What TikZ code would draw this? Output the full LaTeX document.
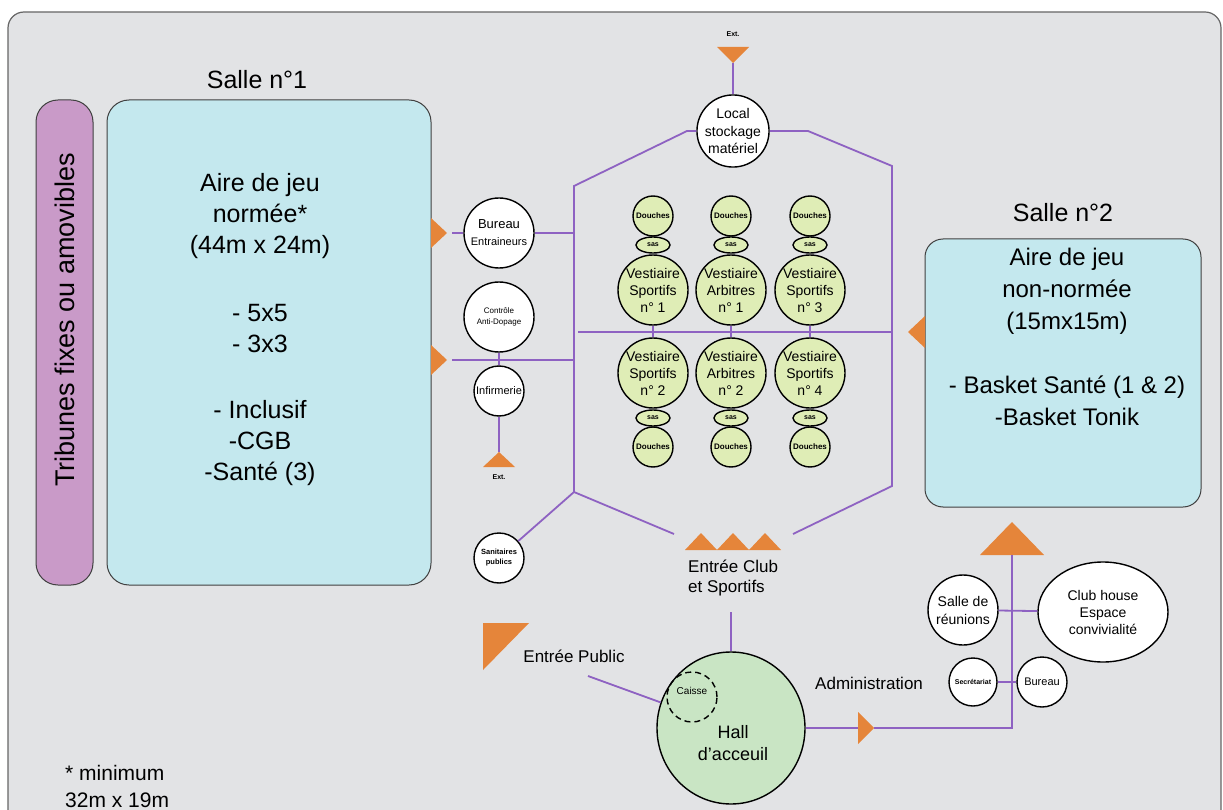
\documentclass[tikz,border=0pt]{standalone}
\usepackage{fontspec}
\setmainfont{Liberation Sans}
\usetikzlibrary{shapes.geometric}
\definecolor{fond}{HTML}{E2E3E5}
\definecolor{terrain}{HTML}{C4E8EE}
\definecolor{tribune}{HTML}{C99AC8}
\definecolor{vert}{HTML}{DFEDB6}
\definecolor{accueil}{HTML}{C9E5C4}
\definecolor{orangeF}{HTML}{E5853A}
\definecolor{couloir}{HTML}{8E62C2}
\newcommand{\fsz}[2]{\fontsize{#1}{#2}\selectfont}

\begin{document}
\begin{tikzpicture}[x=1pt, y=-1pt, >=latex]
		\useasboundingbox (0,0) rectangle (1223,810);
		\fill[white] (0,0) rectangle (1223,810);
		\draw[fill=fond, draw=black!60, line width=1.2pt, rounded corners=16pt] (8,12) rectangle (1221,860);

		\tikzstyle{salle} = [draw=black!75, line width=1pt, rounded corners=22pt, fill=terrain, inner sep=0pt]
		\tikzstyle{piece} = [circle, draw, line width=1.4pt, fill=white, inner sep=0pt, align=center]
		\tikzstyle{vest} = [piece, fill=vert]
		\tikzstyle{sas} = [ellipse, draw, line width=1.4pt, fill=vert, inner sep=0pt, minimum width=34pt, minimum height=16pt, font=\bfseries\fsz{7}{8}]
		\tikzstyle{txt} = [inner sep=0pt, align=center]
		\tikzstyle{lien} = [draw=couloir, line width=1.8pt]
		\tikzstyle{entree} = [fill=orangeF]

		% salles
		\node[salle, fill=tribune, minimum width=57pt, minimum height=485pt] (trib) at (64.5,342.5) {};
		\node[txt, rotate=90, font=\fsz{27}{30}] (tribt) at (65,320) {Tribunes fixes ou amovibles};
		\node[salle, minimum width=324pt, minimum height=485pt] (s1) at (269,342.5) {};
		\node[txt, font=\fsz{25}{30}] (s1t) at (257,80) {Salle n°1};
		\node[txt, font=\fsz{25}{31}] (a1) at (260,330) {Aire de jeu\\normée*\\(44m x 24m)\\[37pt]- 5x5\\- 3x3\\[35pt]- Inclusif\\-CGB\\-Santé (3)};
		\node[salle, minimum width=276pt, minimum height=268pt, rounded corners=18pt] (s2) at (1063,373) {};
		\node[txt, font=\fsz{25}{30}] (s2t) at (1063,213) {Salle n°2};
		\node[txt, font=\fsz{24}{32}] (a2) at (1067,337) {Aire de jeu\\non-normée\\(15mx15m)\\[32pt]- Basket Santé (1 \& 2)\\-Basket Tonik};

		% locaux
		\node[piece, minimum size=70pt, font=\fsz{14}{17.5}] (loc) at (733,131) {Local\\stockage\\matériel};
		\node[piece, minimum size=70pt, font=\fsz{11}{17}] (bur) at (499,233) {{\fsz{13}{17}Bureau}\\Entraineurs};
		\node[piece, minimum size=70pt, font=\fsz{8}{11}] (cad) at (499,317) {Contrôle\\Anti-Dopage};
		\node[piece, minimum size=50pt, font=\fsz{11}{13}] (inf) at (499,391) {Infirmerie};
		\node[piece, minimum size=50pt, font=\bfseries\fsz{7.5}{10}] (san) at (499,558) {Sanitaires\\publics};
		\node[piece, minimum size=70pt, font=\fsz{14}{18}] (reu) at (963,610) {Salle de\\réunions};
		\node[piece, ellipse, minimum width=130pt, minimum height=100pt, font=\fsz{14}{17}] (club) at (1103,612) {Club house\\Espace\\convivialité};
		\node[piece, minimum size=48pt, font=\bfseries\fsz{7}{9}] (sec) at (973,682) {Secrétariat};
		\node[piece, minimum size=50pt, font=\fsz{11}{13}] (bu2) at (1042,682) {Bureau};
		\node[piece, ellipse, fill=accueil, minimum width=148pt, minimum height=152pt] (hal) at (731,728) {};
		\node[txt, font=\fsz{18}{22}] (halt) at (733,743) {Hall\\d’acceuil};
		\node[circle, draw, dashed, dash pattern=on 6pt off 4pt, line width=1.4pt, minimum size=50pt, inner sep=0pt] (cai) at (692,697) {};
		\node[txt, font=\fsz{10}{12}] (cait) at (692,691) {Caisse};

		% vestiaires
		\coordinate (m1) at (578,332);
		\coordinate (m2) at (892,332);
		\draw[lien] (m1) -- (m2);
		\foreach \x/\ta/\na/\tb/\nb [count=\i] in {653/Sportifs/1/Sportifs/2, 731/Arbitres/1/Arbitres/2, 810/Sportifs/3/Sportifs/4} {
			\node[vest, minimum size=40pt, font=\bfseries\fsz{8}{9}] (dh\i) at (\x,216) {Douches};
			\node[sas] (sh\i) at (\x,245) {sas};
			\node[vest, minimum size=70pt, font=\fsz{14}{17}] (vh\i) at (\x,290) {Vestiaire\\\ta\\n° \na};
			\node[vest, minimum size=70pt, font=\fsz{14}{17}] (vb\i) at (\x,373) {Vestiaire\\\tb\\n° \nb};
			\node[sas] (sb\i) at (\x,418) {sas};
			\node[vest, minimum size=40pt, font=\bfseries\fsz{8}{9}] (db\i) at (\x,447) {Douches};
			\draw[lien] (vh\i) -- (vh\i |- m1);
			\draw[lien] (vb\i) -- (vb\i |- m1);
		}

		% entrees
		\coordinate (extH) at (733,63);
		\coordinate (tb) at (447,233);
		\coordinate (tc) at (447,360);
		\coordinate (t2) at (908,332);
		\coordinate (extB) at (499,452);
		\coordinate (tadm) at (874,728);
		\coordinate (tbig) at (1012,522);
		\fill[entree] (extH) -- ++(-16,-16) -- ++(32,0) -- cycle;
		\fill[entree] (tb) -- ++(-16,-15) -- ++(0,30) -- cycle;
		\fill[entree] (tc) -- ++(-16,-15) -- ++(0,30) -- cycle;
		\fill[entree] (t2) -- ++(17,-16) -- ++(0,32) -- cycle;
		\fill[entree] (extB) -- ++(-16,15) -- ++(32,0) -- cycle;
		\foreach \x in {701,733,765}
			\fill[entree] (\x,533) -- ++(-16,17) -- ++(32,0) -- cycle;
		\fill[entree] (483,623) -- (529,623) -- (483,670) -- cycle;
		\fill[entree] (tadm) -- ++(-16,-16) -- ++(0,32) -- cycle;
		\fill[entree] (tbig) -- ++(-32,33) -- ++(64,0) -- cycle;

		\node[txt, font=\bfseries\fsz{7}{8}] (extHt) at (733,34) {Ext.};
		\node[txt, font=\bfseries\fsz{7}{8}] (extBt) at (499,477) {Ext.};
		\node[txt, anchor=west, align=left, font=\fsz{17}{20}] (ecs) at (688,578) {Entrée Club\\et Sportifs};
		\node[txt, font=\fsz{17}{20}] (ep) at (574,656) {Entrée Public};
		\node[txt, anchor=west, font=\fsz{17}{20}] (adm) at (815,683) {Administration};
		\node[txt, anchor=west, align=left, font=\fsz{21}{27}] (mini) at (65,786) {* minimum\\32m x 19m};

		% couloirs
		\coordinate (c1) at (574,186);
		\coordinate (c2) at (687,131);
		\coordinate (c3) at (808,131);
		\coordinate (c4) at (892,166);
		\coordinate (c5) at (892,486);
		\coordinate (c6) at (793,534);
		\coordinate (c7) at (574,492);
		\coordinate (c8) at (674,534);
		\coordinate (ecb) at (731,612);
		\coordinate (epl) at (588,676);
		\coordinate (adc) at (1012,728);
		\coordinate (tbb) at (1012,555);
		\draw[lien] (loc) -- (c2) -- (c1) -- (c7) -- (c8);
		\draw[lien] (loc) -- (c3) -- (c4) -- (c5) -- (c6);
		\draw[lien] (c7) -- (san);
		\draw[lien] (bur) -- (bur -| c1);
		\draw[lien] ([xshift=5pt]tb) -- (bur);
		\draw[lien] ([xshift=5pt]tc) -- (tc -| c1);
		\draw[lien] (cad) -- (inf);
		\draw[lien] (inf) -- (extB);
		\draw[lien] (extH) -- (loc);
		\draw[lien] (ecb) -- (hal);
		\draw[lien] (epl) -- (hal);
		\draw[lien] (hal) -- ([xshift=-16pt]tadm);
		\draw[lien] (tadm) -- (adc) -- (tbb);
		\draw[lien] (reu) -- (club);
		\draw[lien] (sec) -- (bu2);
\end{tikzpicture}
\end{document}
